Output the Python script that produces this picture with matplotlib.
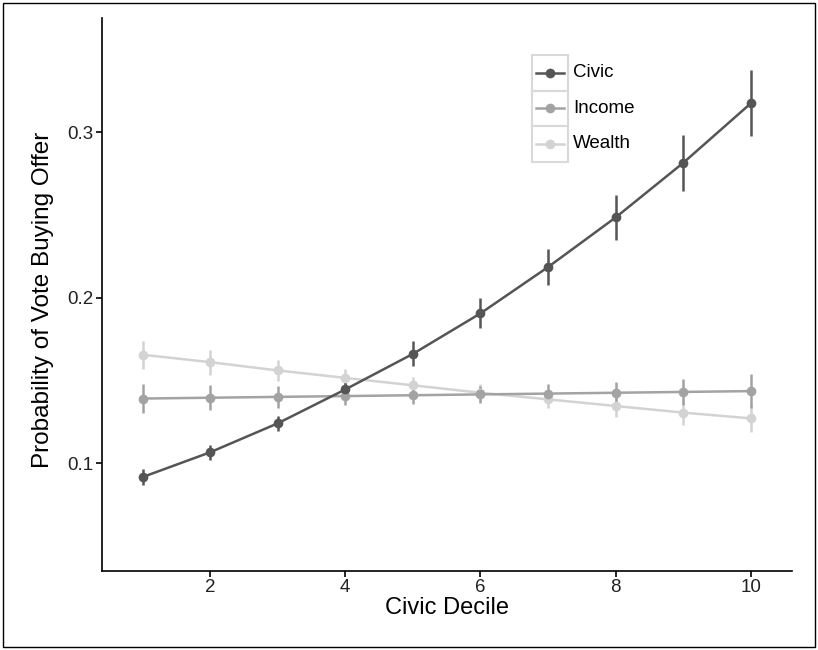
import numpy as np
import matplotlib
matplotlib.use('Agg')
import matplotlib.pyplot as plt
from matplotlib.patches import Rectangle
from matplotlib.lines import Line2D

plt.rcParams['font.family'] = ['Liberation Sans', 'DejaVu Sans']

# Data
decile = [1, 2, 3, 4, 5, 6, 7, 8, 9, 10]
civic = [0.0915, 0.1065, 0.1240, 0.1445, 0.1660, 0.1905, 0.2185, 0.2485, 0.2815, 0.3175]
civic_err = [0.005, 0.0045, 0.0045, 0.006, 0.0075, 0.009, 0.011, 0.0135, 0.017, 0.020]
income = [0.1390, 0.1395, 0.1400, 0.1405, 0.1410, 0.1415, 0.1420, 0.1425, 0.1430, 0.1435]
income_err = [0.009, 0.0075, 0.0065, 0.0055, 0.005, 0.005, 0.0055, 0.0065, 0.008, 0.0105]
wealth = [0.1655, 0.1610, 0.1560, 0.1515, 0.1470, 0.1425, 0.1385, 0.1345, 0.1305, 0.1270]
wealth_err = [0.0085, 0.0075, 0.0065, 0.0055, 0.005, 0.005, 0.0055, 0.0065, 0.0075, 0.0085]

names = ['Civic', 'Income', 'Wealth']
colors = ['#555555', '#a3a3a3', '#d3d3d3']

fig = plt.figure(figsize=(8.18, 6.5), dpi=100)
ax = fig.add_axes([0.1247, 0.1215, 0.8435, 0.8505])

series = [(civic, civic_err), (income, income_err), (wealth, wealth_err)]
# draw lighter series first so Civic is on top
for (vals, err), col in reversed(list(zip(series, colors))):
    ax.errorbar(decile, vals, yerr=err, color=col, ecolor=col, lw=1.8,
                elinewidth=1.8, capsize=0, marker='o', markersize=7,
                markeredgewidth=0)

ax.set_xlim(0.40, 10.61)
ax.set_ylim(0.0347, 0.369)
ax.set_xticks([2, 4, 6, 8, 10])
ax.set_yticks([0.1, 0.2, 0.3])
ax.set_yticklabels(['0.1', '0.2', '0.3'])

for s in ['top', 'right']:
    ax.spines[s].set_visible(False)
for s in ['left', 'bottom']:
    ax.spines[s].set_linewidth(1.2)
    ax.spines[s].set_color('black')
ax.tick_params(axis='both', length=4, width=1.2, colors='black',
               labelsize=13.5, labelcolor='#222222', pad=2)

ax.set_xlabel('Civic Decile', fontsize=17)
ax.set_ylabel('Probability of Vote Buying Offer', fontsize=17.5)
ax.xaxis.set_label_coords(0.5, -0.066)
ax.xaxis.label.set_va('center')
ax.yaxis.set_label_coords(-0.086, 0.49)
ax.yaxis.label.set_va('center')

# ggplot-style legend with boxed keys
box_w, box_h = 36 / 818, 35.5 / 650
x0 = 532 / 818
y_top = 1 - 55 / 650
for i, (name, col) in enumerate(zip(names, colors)):
    yb = y_top - (i + 1) * box_h
    fig.patches.append(Rectangle((x0, yb), box_w, box_h, transform=fig.transFigure,
                                 facecolor='white', edgecolor='#d9d9d9', lw=1.5))
    yc = yb + box_h / 2
    fig.lines.append(Line2D([x0 + 0.12 * box_w, x0 + 0.88 * box_w], [yc, yc],
                            transform=fig.transFigure, color=col, lw=1.8))
    fig.lines.append(Line2D([x0 + box_w / 2], [yc], transform=fig.transFigure,
                            color=col, marker='o', markersize=7, markeredgewidth=0))
    fig.text(x0 + box_w + 5 / 818, yc, name, fontsize=13.5, va='center', ha='left',
             color='black')

# outer frame
fig.patches.append(Rectangle((0.004, 0.004), 0.992, 0.992, transform=fig.transFigure,
                             facecolor='none', edgecolor='black', lw=1.0))

fig.savefig('out.png', dpi=100)
